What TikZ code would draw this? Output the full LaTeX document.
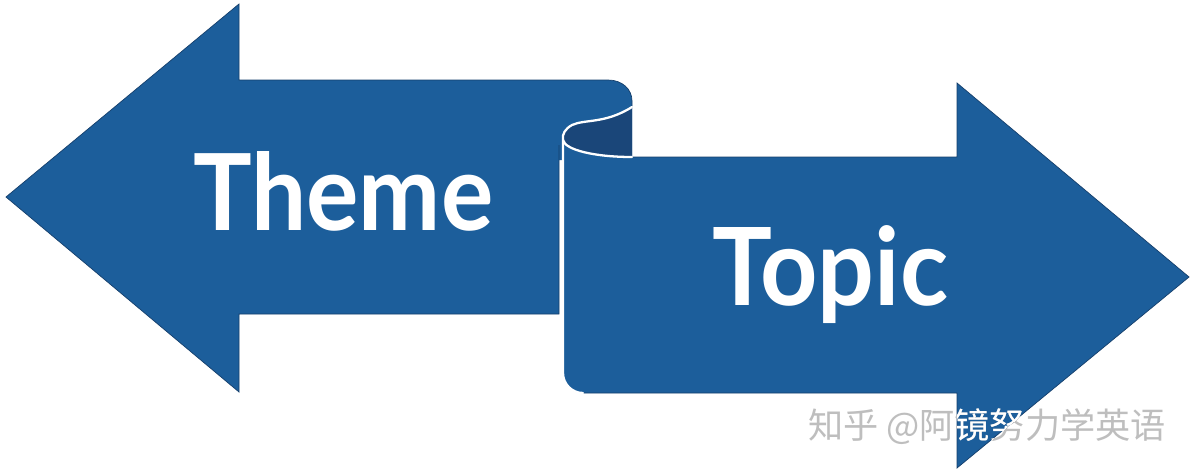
\documentclass[tikz,border=0pt]{standalone}
\usepackage{fontspec}
\newfontfamily\lat{Lato}
\newfontfamily\cjk{Noto Sans CJK SC}
\definecolor{ribbon}{HTML}{1C5E9B}
\definecolor{ribbonback}{HTML}{1A4679}
\definecolor{ribbonedge}{HTML}{153F6C}
\definecolor{wmgray}{HTML}{BEBEBE}
\tikzset{
  ribbonfill/.style={fill=ribbon, draw=ribbonedge, line width=0.4pt, line join=miter},
  ribbonoutline/.style={draw=ribbonedge, line width=0.4pt, line join=miter},
  foldline/.style={draw=white, line width=1.3pt, line cap=round},
  bigword/.style={anchor=base west, inner sep=0pt, text=white},
  watermark/.style={inner sep=0pt, font=\cjk\fontsize{20}{24}\selectfont}
}
\begin{document}
\begin{tikzpicture}[x=0.02cm,y=-0.02cm]
\useasboundingbox (0,0) rectangle (1200,474);
\fill[white] (0,0) rectangle (1200,474);
% left arrow (Theme)
\fill[ribbon] (6,197) -- (239,4) -- (239,80) -- (608,80)
  .. controls (622,80) and (632,89) .. (632,101) -- (632,160) -- (559,160)
  -- (559,314) -- (239,314) -- (239,392) -- cycle;
\draw[ribbonoutline] (559,145) -- (559,314) -- (239,314) -- (239,392) -- (6,197)
  -- (239,4) -- (239,80) -- (608,80)
  .. controls (622,80) and (632,89) .. (632,101) -- (632,108);
% back side of the fold
\fill[ribbonback] (632,107) .. controls (605,124) and (585,119) .. (572,125)
  .. controls (565,129) and (562,134) .. (563,140)
  .. controls (565,150) and (595,157) .. (632,157) -- cycle;
% right arrow (Topic)
\path[ribbonfill] (563,140) .. controls (565,150) and (595,157) .. (632,157)
  -- (957,157) -- (957,83) -- (1189,277) -- (957,468) -- (957,393) -- (583,393)
  .. controls (572,393) and (563,384) .. (563,373) -- cycle;
% white fold edges
\draw[foldline] (632,107) .. controls (605,124) and (585,119) .. (572,125)
  .. controls (565,129) and (562,134) .. (563,140) -- (563,373)
  .. controls (563,384) and (572,393) .. (583,393);
\draw[foldline] (563,140) .. controls (565,150) and (595,157) .. (632,157);
% words
\node[bigword] (theme) at (193,230) {\resizebox{6cm}{1.58cm}{\lat\bfseries Theme}};
\node[bigword] (topic) at (712,305) {\resizebox{4.72cm}{1.6cm}{\lat\bfseries Topic}};
% watermark
\node[watermark, text=wmgray] (wm) at (987,427) {知乎 @阿镜努力学英语};
\begin{scope}
  \clip (957,83) -- (1189,277) -- (957,468) -- cycle;
  \node[watermark, text=white] (wmonblue) at (987,427) {知乎 @阿镜努力学英语};
\end{scope}
\end{tikzpicture}
\end{document}
